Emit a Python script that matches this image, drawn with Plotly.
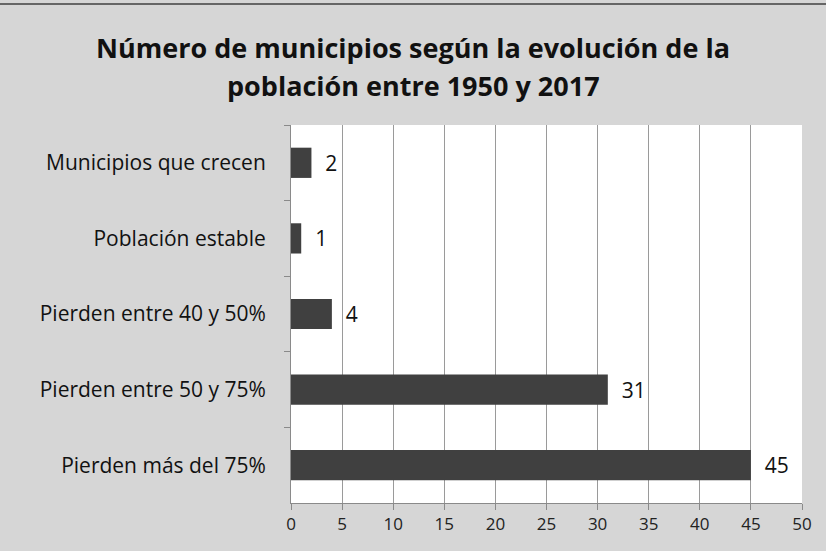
import plotly.graph_objects as go

# --- Data ---
categorias = [
    "Municipios que crecen",
    "Población estable",
    "Pierden entre 40 y 50%",
    "Pierden entre 50 y 75%",
    "Pierden más del 75%",
]
municipios = [2, 1, 4, 31, 45]
x_ticks = [0, 5, 10, 15, 20, 25, 30, 35, 40, 45, 50]
titulo = [
    "Número de municipios según la evolución de la",
    "población entre 1950 y 2017",
]

FONT = "Open Sans"
W, H = 826, 551
M = dict(l=291, r=24, t=125, b=48)
plot_w = W - M["l"] - M["r"]
plot_h = H - M["t"] - M["b"]

fig = go.Figure()

fig.add_trace(
    go.Bar(
        x=municipios,
        y=categorias,
        orientation="h",
        marker=dict(color="#404040", line=dict(width=0)),
        texttemplate="  %{x}",
        textposition="outside",
        textfont=dict(family=FONT, size=21, color="#111111"),
        cliponaxis=False,
    )
)

# --- Layout styling ---
fig.update_layout(
    width=W,
    height=H,
    paper_bgcolor="#d6d6d6",
    plot_bgcolor="#ffffff",
    margin=dict(**M, autoexpand=False),
    bargap=0.6,
    showlegend=False,
    xaxis=dict(
        range=[0, 50],
        tickvals=x_ticks,
        showgrid=True,
        gridcolor="#9a9a9a",
        gridwidth=1,
        showline=True,
        linecolor="#8a8a8a",
        ticks="outside",
        ticklen=6,
        tickcolor="#8a8a8a",
        tickfont=dict(family=FONT, size=17, color="#222222"),
        zeroline=False,
        fixedrange=True,
    ),
    yaxis=dict(
        autorange="reversed",
        showline=True,
        linecolor="#8a8a8a",
        ticks="outside",
        tickson="boundaries",
        ticklen=6,
        tickcolor="#8a8a8a",
        ticklabelstandoff=20,
        tickfont=dict(family=FONT, size=21, color="#111111"),
        showgrid=False,
        fixedrange=True,
    ),
)

# Two-line bold title as annotations (paper coords are relative to the plot area)
centro_x = (W / 2 - M["l"]) / plot_w
for i, linea in enumerate(titulo):
    fila_px = 47 + 38 * i  # line centre, pixels from the top
    fig.add_annotation(
        text=f"<b>{linea}</b>",
        xref="paper", yref="paper",
        x=centro_x, xanchor="center",
        y=1 + (M["t"] - fila_px) / plot_h, yanchor="middle",
        showarrow=False,
        font=dict(family=FONT, size=27, color="#111111"),
    )

# Thin dark frame along the top edge, as in the scanned original
fig.add_shape(
    type="line", xref="paper", yref="paper",
    x0=-0.6, x1=1.1, y0=1.32, y1=1.32,
    line=dict(color="#666666", width=2),
)

# drop the default body margin so the figure sits at the page corner
fig.write_html(
    "out.html",
    config={"displayModeBar": False},
    post_script="document.body.style.margin='0';",
)
